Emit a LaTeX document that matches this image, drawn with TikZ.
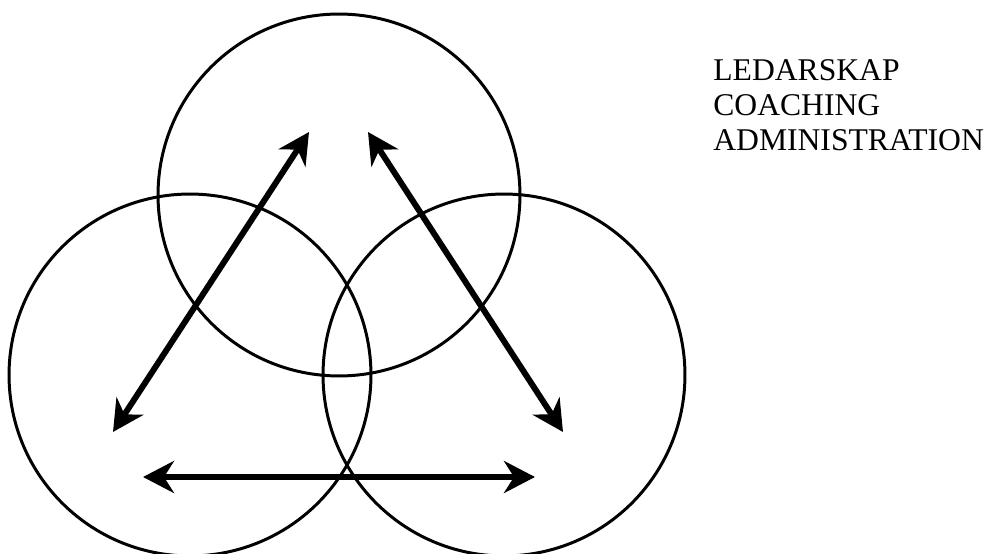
\documentclass[tikz,border=0pt]{standalone}
\usepackage{fontspec}
\setmainfont{Liberation Serif}
\usetikzlibrary{arrows.meta}

\begin{document}
\begin{tikzpicture}[
    x=0.02cm, y=-0.02cm,
    ring/.style={draw=black, circle, line width=1.7pt, minimum size=7.24cm, inner sep=0pt},
    link/.style={draw=black, line width=3.4pt,
      {Stealth[length=0.62cm, width=0.64cm, inset=0.2cm]}-{Stealth[length=0.62cm, width=0.64cm, inset=0.2cm]}},
    word/.style={font=\fontsize{18}{20}\selectfont, anchor=base west, inner sep=0pt}
]
\useasboundingbox (0,0) rectangle (992,554);
\clip (0,0) rectangle (992,554);

% the three circles
\node[ring] (lead) at (339,195) {};
\node[ring] (coach) at (190,375) {};
\node[ring] (admin) at (504,375) {};

% arrow ends
\coordinate (lefttop) at (309,132);
\coordinate (leftlow) at (113,432);
\coordinate (righttop) at (368,132);
\coordinate (rightlow) at (563,432);
\coordinate (baseleft) at (143,477);
\coordinate (baseright) at (535,477);

\draw[link] (leftlow) -- (lefttop);
\draw[link] (righttop) -- (rightlow);
\draw[link] (baseleft) -- (baseright);

% legend
\node[word] (ledarskap) at (713,81) {LEDARSKAP};
\node[word] (coaching) at (713,116) {COACHING};
\node[word] (administration) at (713,151) {ADMINISTRATION};
\end{tikzpicture}
\end{document}
